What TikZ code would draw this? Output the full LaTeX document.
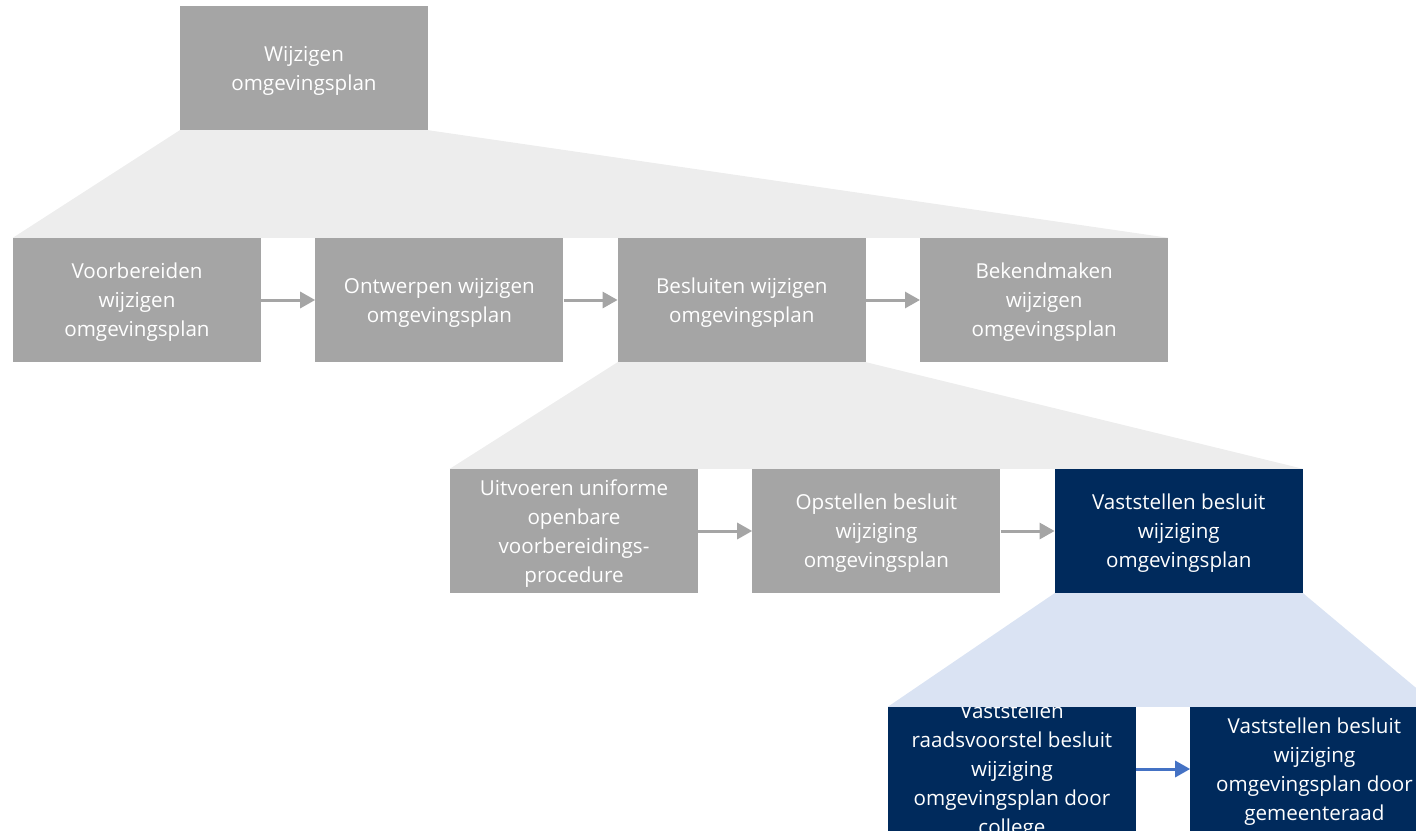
\documentclass[tikz,border=0pt]{standalone}
\usepackage{fontspec}
\setmainfont{Open Sans}
\usetikzlibrary{positioning, arrows.meta}
\definecolor{boxgrey}{HTML}{A5A5A5}
\definecolor{fangrey}{HTML}{EDEDED}
\definecolor{boxblue}{HTML}{002A5C}
\definecolor{fanblue}{HTML}{DAE3F3}
\definecolor{arrowblue}{HTML}{4472C4}
% box text: centred lines that may run over the box
\newcommand{\boxlines}[1]{\raisebox{-14pt}{\smash{\begin{tabular}{@{}c@{}}#1\end{tabular}}}}

\begin{document}
\begin{tikzpicture}[x=1pt, y=-1pt]
    \tikzset{%
        stepbox/.style={fill=boxgrey, text=white, minimum width=248pt, minimum height=124pt,
                inner sep=0pt, align=center, font=\fontsize{20.6pt}{29pt}\selectfont},
        activebox/.style={stepbox, fill=boxblue},
        flow/.style={line width=3pt, boxgrey, -{Triangle[length=15pt, width=16pt]}},
        activeflow/.style={flow, arrowblue},
    }
    \useasboundingbox (0, 0) rectangle (1416, 832);
    \clip (0, 0) rectangle (1416, 832);

    % level 0
    \node [stepbox] (top) at (304, 68) {\boxlines{Wijzigen\\omgevingsplan}};

    % level 1
    \node [stepbox] (voorb) at (137, 300) {\boxlines{Voorbereiden\\wijzigen\\omgevingsplan}};
    \node [stepbox, right=54pt of voorb] (ontw) {\boxlines{Ontwerpen wijzigen\\omgevingsplan}};
    \node [stepbox, right=54pt of ontw] (besl) {\boxlines{Besluiten wijzigen\\omgevingsplan}};
    \node [stepbox, right=54pt of besl] (bekend) {\boxlines{Bekendmaken\\wijzigen\\omgevingsplan}};

    % level 2
    \node [stepbox] (uov) at (574, 531) {\boxlines{Uitvoeren uniforme\\openbare\\voorbereidings-\\procedure}};
    \node [stepbox, right=54pt of uov] (opst) {\boxlines{Opstellen besluit\\wijziging\\omgevingsplan}};
    \node [activebox, right=54pt of opst] (vast) {\boxlines{Vaststellen besluit\\wijziging\\omgevingsplan}};

    % level 3
    \node [activebox] (raad) at (1012, 769) {\boxlines{Vaststellen\\raadsvoorstel besluit\\wijziging\\omgevingsplan door\\college}};
    \node [activebox, right=54pt of raad] (gemr) {\boxlines{Vaststellen besluit\\wijziging\\omgevingsplan door\\gemeenteraad}};

    \draw [flow] (voorb) -- (ontw);
    \draw [flow] (ontw) -- (besl);
    \draw [flow] (besl) -- (bekend);
    \draw [flow] (uov) -- (opst);
    \draw [flow] (opst) -- (vast);
    \draw [activeflow] (raad) -- (gemr);

    % zoom fans
    \fill [fangrey] (top.south west) -- (top.south east) -- (bekend.north east) -- (voorb.north west) -- cycle;
    \fill [fangrey] (besl.south west) -- (besl.south east) -- (vast.north east) -- (uov.north west) -- cycle;
    \fill [fanblue] (vast.south west) -- (vast.south east) -- (gemr.north east) -- (raad.north west) -- cycle;
\end{tikzpicture}
\end{document}
